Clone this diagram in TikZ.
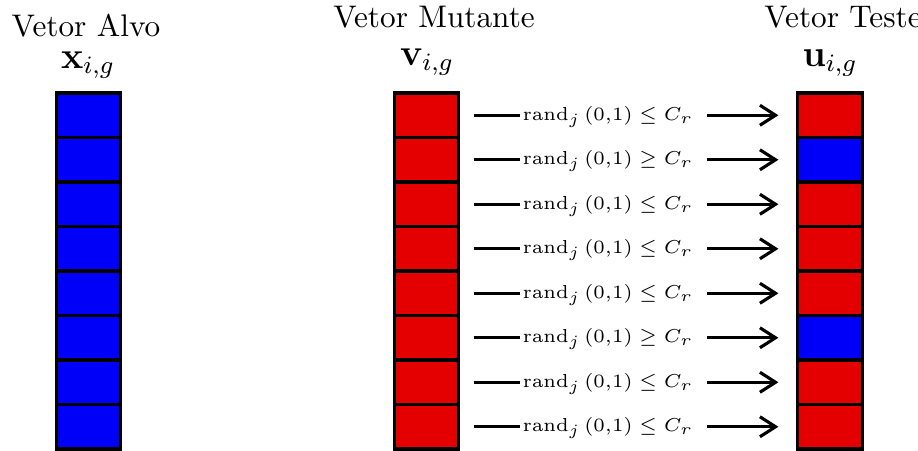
\documentclass[tikz,border=0pt]{standalone}
\usepackage{amsmath, amssymb}
\usepackage{xcolor}
\usepackage{tikz}
\usetikzlibrary{arrows.meta}

\definecolor{vermelho}{RGB}{229,0,0}
\definecolor{azul}{RGB}{0,0,250}

\begin{document}
\begin{tikzpicture}[
    x=0.32pt,
    y=-0.32pt,
    cell/.style={draw=black, line width=1pt, inner sep=0pt,
        minimum width=20.6pt, minimum height=14.24pt},
    liga/.style={line width=1pt},
    seta/.style={line width=1pt, -{Straight Barb[length=5pt,width=6.4pt]}}
]

% Parametri
\def\ytop{93}
\def\dy{44.5}
\def\xalvo{88.5}
\def\xmut{426.5}
\def\xtes{830}
\def\xcond{608}

\useasboundingbox (0,0) rectangle (918,450);

% Titoli
\node[anchor=base] (tituloalvo) at (86,36) {Vetor Alvo};
\node[anchor=base] (titulomut) at (434,27) {Vetor Mutante};
\node[anchor=base] (titulotes) at (843,27) {Vetor Teste};

\node[anchor=base, font=\large] (simbalvo) at (88,68) {$\mathbf{x}_{i,g}$};
\node[anchor=base, font=\large] (simbmut) at (427,65) {$\mathbf{v}_{i,g}$};
\node[anchor=base, font=\large] (simbtes) at (830,66) {$\mathbf{u}_{i,g}$};

% Vettori
\foreach \i/\cor/\rel in {1/vermelho/\leq, 2/azul/\geq, 3/vermelho/\leq,
    4/vermelho/\leq, 5/vermelho/\leq, 6/azul/\geq, 7/vermelho/\leq,
    8/vermelho/\leq} {
    \pgfmathsetmacro{\yc}{\ytop+\dy*(\i-0.5)}
    \node[cell, fill=azul] (alvo\i) at (\xalvo,\yc) {};
    \node[cell, fill=vermelho] (mut\i) at (\xmut,\yc) {};
    \node[cell, fill=\cor] (tes\i) at (\xtes,\yc) {};
    \node[anchor=base, font=\fontsize{6pt}{7.2pt}\selectfont]
        (cond\i) at (\xcond,\yc+5) {$\mathrm{rand}_j\,(0{,}1) \rel C_r$};
    \coordinate (fimliga\i) at (520,\yc);
    \coordinate (iniseta\i) at (707,\yc);
    % Linee e frecce
    \draw[liga, shorten <=4.3pt] (mut\i.east) -- (fimliga\i);
    \draw[seta, shorten >=5.7pt] (iniseta\i) -- (tes\i.west);
}

\end{tikzpicture}
\end{document}
